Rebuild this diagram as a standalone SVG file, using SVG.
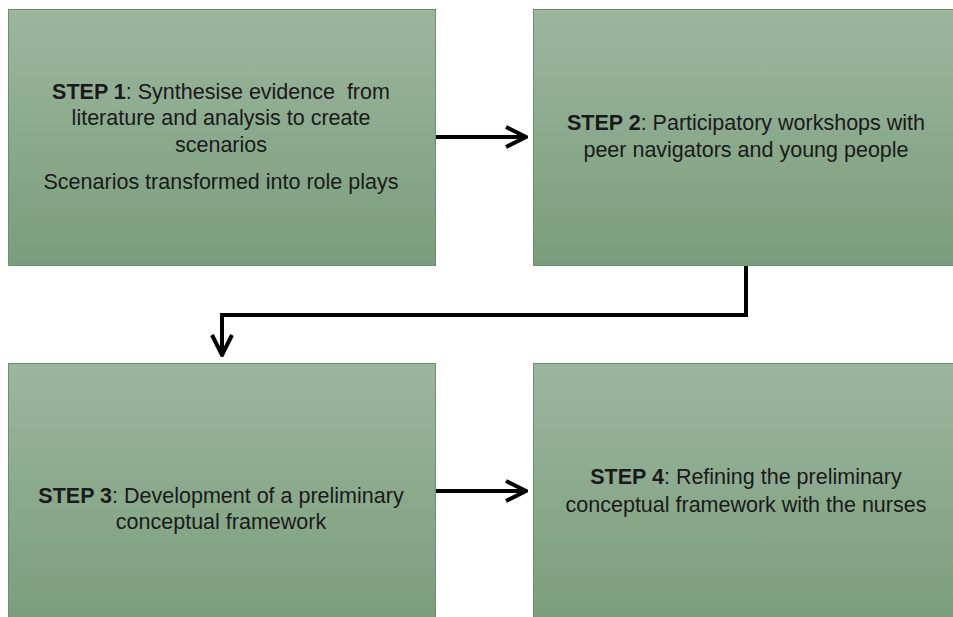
<svg xmlns="http://www.w3.org/2000/svg" width="953" height="617" viewBox="0 0 953 617">
<defs>
<linearGradient id="g" x1="0" y1="0" x2="0" y2="1">
<stop offset="0" stop-color="#9cb69e"/>
<stop offset="1" stop-color="#7a9e7b"/>
</linearGradient>
<marker id="arr2" viewBox="0 0 24 24" refX="22" refY="12" markerWidth="24" markerHeight="24" markerUnits="userSpaceOnUse" orient="auto">
<path d="M2,2 L22,12 L2,22" fill="none" stroke="#000" stroke-width="4"/>
</marker>
</defs>
<style>
.box{fill:url(#g);stroke:#6e8e70;stroke-width:1}
.t{font-family:"Liberation Sans",Arial,sans-serif;font-size:21.5px;fill:#1a1a1a;text-anchor:middle}
.b{font-weight:bold}
.c{fill:none;stroke:#000;stroke-width:4}
</style>
<rect width="953" height="617" fill="#fff"/>
<g id="step1">
<rect class="box" x="8.5" y="9.5" width="427" height="256"/>
<text class="t" x="221" y="99"><tspan class="b">STEP 1</tspan>: Synthesise evidence&#160; from</text>
<text class="t" x="221" y="125">literature and analysis to create</text>
<text class="t" x="221" y="152">scenarios</text>
<text class="t" x="221" y="189">Scenarios transformed into role plays</text>
</g>
<g id="step2">
<rect class="box" x="533.5" y="9.5" width="430" height="256"/>
<text class="t" x="746" y="130"><tspan class="b">STEP 2</tspan>: Participatory workshops with</text>
<text class="t" x="746" y="157">peer navigators and young people</text>
</g>
<g id="step3">
<rect class="box" x="8.5" y="363.5" width="427" height="260"/>
<text class="t" x="221" y="503"><tspan class="b">STEP 3</tspan>: Development of a preliminary</text>
<text class="t" x="221" y="529">conceptual framework</text>
</g>
<g id="step4">
<rect class="box" x="533.5" y="363.5" width="430" height="260"/>
<text class="t" x="746" y="484"><tspan class="b">STEP 4</tspan>: Refining the preliminary</text>
<text class="t" x="746" y="512">conceptual framework with the nurses</text>
</g>
<g id="connectors">
<path class="c" d="M436,137 H526" marker-end="url(#arr2)"/>
<path class="c" d="M746,266 V315 H222 V355" marker-end="url(#arr2)"/>
<path class="c" d="M436,491 H526" marker-end="url(#arr2)"/>
</g>
</svg>
